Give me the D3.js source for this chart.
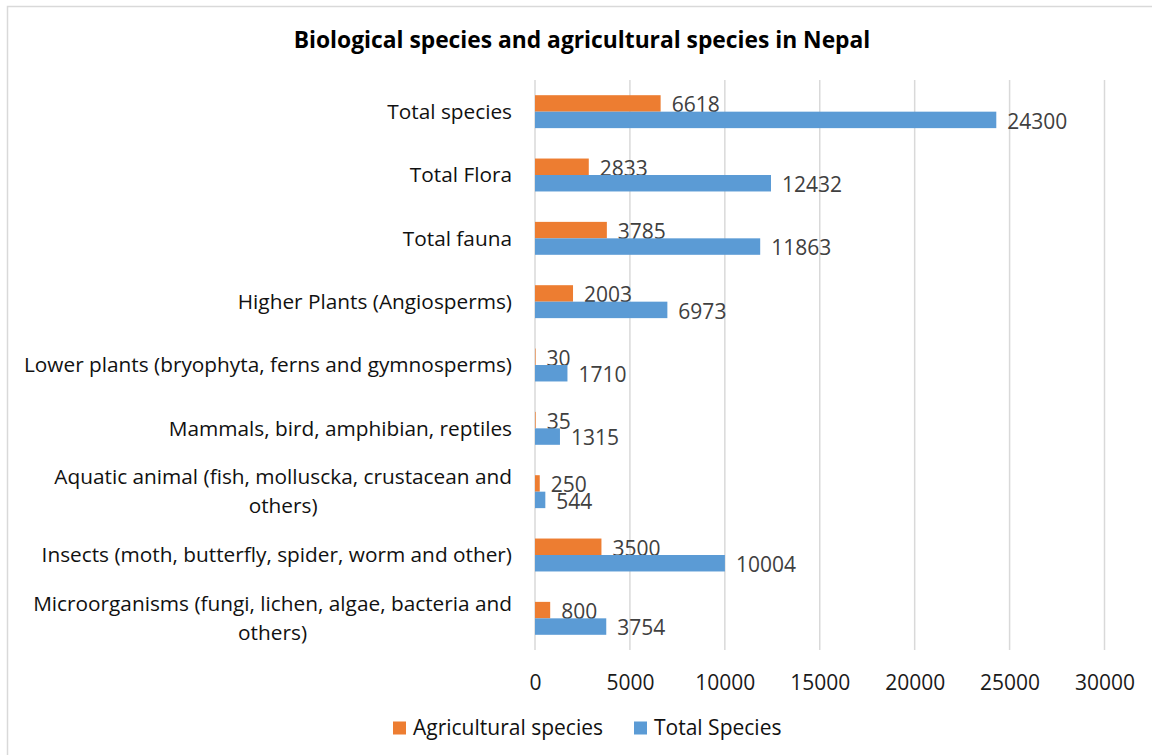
<!DOCTYPE html>
<html>
<head>
<meta charset="utf-8">
<script src="https://cdn.jsdelivr.net/npm/d3@7"></script>
<style>
  html, body { margin: 0; padding: 0; background: #fff; }
  svg { display: block; font-family: "Open Sans", sans-serif; }
</style>
</head>
<body>
<svg id="chart" width="1152" height="755"></svg>
<script>
// Species groups, listed top to bottom; "\n" marks a line break in the label
const categories = [
  "Total species",
  "Total Flora",
  "Total fauna",
  "Higher Plants (Angiosperms)",
  "Lower plants (bryophyta, ferns and gymnosperms)",
  "Mammals, bird, amphibian, reptiles",
  "Aquatic animal (fish, molluscka, crustacean and\nothers)",
  "Insects (moth, butterfly, spider, worm and other)",
  "Microorganisms (fungi, lichen, algae, bacteria and\nothers)"
];
const agriculturalSpecies = [6618, 2833, 3785, 2003, 30, 35, 250, 3500, 800];
const totalSpecies = [24300, 12432, 11863, 6973, 1710, 1315, 544, 10004, 3754];
const seriesNames = ["Agricultural species", "Total Species"];
const xTicks = [0, 5000, 10000, 15000, 20000, 25000, 30000];
const chartTitle = "Biological species and agricultural species in Nepal";

const colors = ["#ED7D31", "#5B9BD5"];
const FONT = "'Open Sans', sans-serif";
const svg = d3.select("#chart");

// Outer chart frame
svg.append("rect")
  .attr("x", 7.5).attr("y", 6.5)
  .attr("width", 1160).attr("height", 760)
  .attr("fill", "#fff").attr("stroke", "#D9D9D9").attr("stroke-width", 1.5);

const plot = { left: 535, right: 1104.5, top: 80, bottom: 650 };

const x = d3.scaleLinear().domain([0, 30000]).range([plot.left, plot.right]);
const y = d3.scaleBand().domain(categories).range([plot.top, plot.bottom]).paddingInner(0.48).paddingOuter(0.24);
const sub = d3.scaleBand().domain(seriesNames).range([0, y.bandwidth()]);

// Vertical gridlines
svg.append("g")
  .selectAll("line").data(xTicks).join("line")
  .attr("x1", d => x(d)).attr("x2", d => x(d))
  .attr("y1", plot.top).attr("y2", plot.bottom)
  .attr("stroke", "#D9D9D9").attr("stroke-width", 1.5);

// X axis tick labels
const xAxis = d3.axisBottom(x).tickValues(xTicks).tickFormat(d3.format("d")).tickSize(0).tickPadding(0);
const xg = svg.append("g").attr("transform", `translate(0,${plot.bottom + 33})`).call(xAxis);
xg.select(".domain").remove();
xg.selectAll("text")
  .attr("font-family", FONT)
  .attr("font-size", 21).attr("fill", "#1a1a1a").attr("dy", "0.35em").attr("y", 0);

// Category labels (centered, wrapped lines)
const catG = svg.append("g");
categories.forEach(c => {
  const lines = c.split("\n");
  const cy = y(c) + y.bandwidth() / 2;
  const lh = 29;
  const t = catG.append("text")
    .attr("text-anchor", "middle")
    .attr("font-size", 20.8).attr("fill", "#111");
  lines.forEach((ln, i) => {
    t.append("tspan")
      .attr("x", 0)
      .attr("y", cy + (i - (lines.length - 1) / 2) * lh)
      .attr("dy", "0.35em")
      .text(ln);
  });
});
// Right-align the centred label blocks against the axis
catG.selectAll("text").each(function () {
  const w = this.getBBox().width;
  d3.select(this).selectAll("tspan").attr("x", 512 - w / 2);
});

// Bars
const series = [agriculturalSpecies, totalSpecies];
series.forEach((vals, si) => {
  const g = svg.append("g");
  g.selectAll("rect").data(vals).join("rect")
    .attr("x", x(0))
    .attr("y", (d, i) => y(categories[i]) + sub(seriesNames[si]))
    .attr("width", d => x(d) - x(0))
    .attr("height", sub.bandwidth())
    .attr("fill", colors[si]);
  g.selectAll("text").data(vals).join("text")
    .attr("x", d => x(d) + 11)
    .attr("y", (d, i) => y(categories[i]) + sub(seriesNames[si]) + sub.bandwidth() / 2 + 1.5)
    .attr("dy", "0.35em")
    .attr("font-size", 21).attr("fill", "#404040")
    .text(d => d);
});

// Title
svg.append("text")
  .attr("x", 582).attr("y", 40).attr("dy", "0.35em")
  .attr("text-anchor", "middle")
  .attr("font-size", 22.8).attr("font-weight", "bold").attr("fill", "#000")
  .text(chartTitle);

// Legend
const legend = svg.append("g").attr("transform", "translate(0,728)");
const legendItems = [{ x: 393 }, { x: 634 }];
seriesNames.forEach((n, i) => {
  legend.append("rect")
    .attr("x", legendItems[i].x).attr("y", -6.5)
    .attr("width", 13).attr("height", 13).attr("fill", colors[i]);
  legend.append("text")
    .attr("x", legendItems[i].x + 20).attr("y", 0).attr("dy", "0.35em")
    .attr("font-size", 21).attr("fill", "#111")
    .text(n);
});
</script>
</body>
</html>
